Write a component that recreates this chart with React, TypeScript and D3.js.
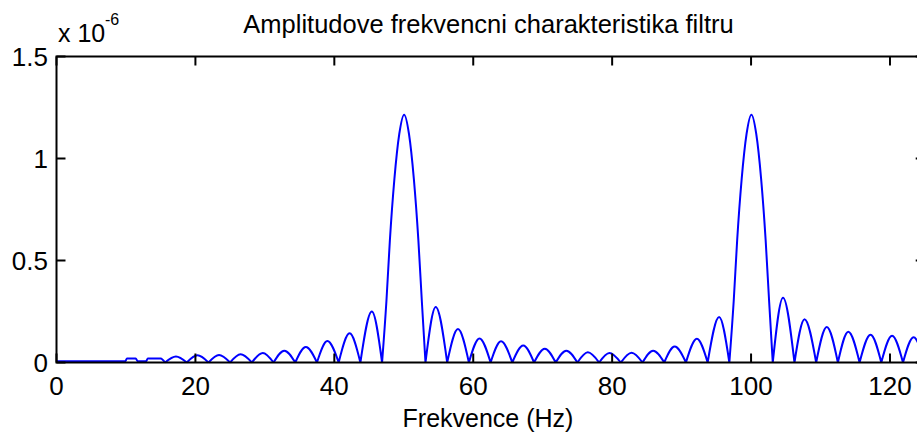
import React from "react";
import * as d3 from "d3";

// ---- data (amplitude in units of 1e-6, frequency in Hz) ----
const xTicks = [0, 20, 40, 60, 80, 100, 120];
const yTicks = [0, 0.5, 1, 1.5];
const yTickLabels = ["0", "0.5", "1", "1.5"];

const floorHz = [0, 9.9, 10.15, 11.4, 11.7, 12.9, 13.15, 15.0];
const floorAmp = [0.006, 0.006, 0.02, 0.02, 0.006, 0.006, 0.02, 0.02];

const nullsHz = [
  15.625, 18.75, 21.875, 25, 28.125, 31.25, 34.375, 37.5, 40.625, 43.75, 46.875,
  53.125, 56.25, 59.375, 62.5, 65.625, 68.75, 71.875, 75, 78.125, 81.25, 84.375,
  87.5, 90.625, 93.75, 96.875, 103.125, 106.25, 109.375, 112.5, 115.625, 118.75,
  121.875, 125,
];

const sideLobeHz = [
  17.2, 20.3, 23.4, 26.5, 29.7, 32.8, 35.9, 39.0, 42.2, 45.4,
  54.6, 57.8, 60.9, 64.0, 67.2, 70.3, 73.4, 76.5, 79.6, 82.8, 85.9, 89.0, 92.2, 95.4,
  104.6, 107.7, 110.9, 114.0, 117.2, 120.3, 123.4,
];
const sideLobeAmp = [
  0.03, 0.035, 0.037, 0.04, 0.047, 0.058, 0.076, 0.105, 0.143, 0.25,
  0.272, 0.164, 0.118, 0.104, 0.083, 0.068, 0.058, 0.05, 0.047, 0.048, 0.057, 0.078, 0.116, 0.223,
  0.318, 0.212, 0.174, 0.151, 0.136, 0.131, 0.124,
];

const mainLobe50Hz = [47.5, 48.0, 48.65, 49.35, 50.05, 50.75, 51.45, 52.1, 52.6];
const mainLobe50Amp = [0.3, 0.6, 0.9, 1.12, 1.215, 1.12, 0.9, 0.6, 0.3];
const mainLobe100Hz = [97.5, 98.0, 98.65, 99.35, 100.05, 100.75, 101.45, 102.1, 102.6];
const mainLobe100Amp = [0.3, 0.6, 0.9, 1.12, 1.215, 1.12, 0.9, 0.6, 0.3];

const title = "Amplitudove frekvencni charakteristika filtru";
const xLabel = "Frekvence (Hz)";

// ---- layout ----
const W = 917;
const H = 433;
const left = 56.5;
const right = 924.7;
const top = 56.5;
const bottom = 362.5;
const FONT = "'Liberation Sans', Arial, Helvetica, sans-serif";

export default function App() {
  const x = d3.scaleLinear().domain([0, 125]).range([left, right]);
  const y = d3.scaleLinear().domain([0, 1.5]).range([bottom, top]);

  type P = [number, number];
  const pts: P[] = [];
  floorHz.forEach((f, i) => pts.push([f, floorAmp[i]]));
  nullsHz.forEach((f) => pts.push([f, 0]));
  sideLobeHz.forEach((f, i) => pts.push([f, sideLobeAmp[i]]));
  mainLobe50Hz.forEach((f, i) => pts.push([f, mainLobe50Amp[i]]));
  mainLobe100Hz.forEach((f, i) => pts.push([f, mainLobe100Amp[i]]));
  pts.sort((a, b) => a[0] - b[0]);

  // split into segments at the nulls so each lobe keeps its V-shaped null
  const segments: P[][] = [];
  let cur: P[] = [];
  pts.forEach((p) => {
    cur.push(p);
    if (p[1] === 0 && cur.length > 1) {
      segments.push(cur);
      cur = [p];
    }
  });
  if (cur.length > 1) segments.push(cur);

  const line = d3
    .line<P>()
    .x((d) => x(d[0]))
    .y((d) => y(d[1]))
    .curve(d3.curveMonotoneX);
  const pathD = segments.map((s) => line(s)).join("");

  const tickLen = 9;

  return (
    <svg
      width={W}
      height={H}
      style={{ position: "absolute", left: 0, top: 0, display: "block", background: "#fff" }}
      fontFamily={FONT}
    >
      <rect x={0} y={0} width={W} height={H} fill="#fff" />
      {/* curve */}
      <path d={pathD} fill="none" stroke="#0000ff" strokeWidth={2} strokeLinejoin="round" />
      {/* box */}
      <rect x={left} y={top} width={right - left} height={bottom - top} fill="none" stroke="#000" strokeWidth={2} />
      {/* x ticks */}
      {xTicks.map((t) => (
        <g key={"xt" + t}>
          <line x1={x(t)} x2={x(t)} y1={bottom} y2={bottom - tickLen} stroke="#000" strokeWidth={2} />
          <line x1={x(t)} x2={x(t)} y1={top} y2={top + tickLen} stroke="#000" strokeWidth={2} />
          <text x={x(t)} y={395} textAnchor="middle" fontSize={26} fill="#000">
            {t}
          </text>
        </g>
      ))}
      {/* y ticks */}
      {yTicks.map((t, i) => (
        <g key={"yt" + t}>
          <line x1={left} x2={left + tickLen} y1={y(t)} y2={y(t)} stroke="#000" strokeWidth={2} />
          <line x1={right} x2={right - tickLen} y1={y(t)} y2={y(t)} stroke="#000" strokeWidth={2} />
          <text x={48} y={y(t) + 9.5} textAnchor="end" fontSize={26} fill="#000">
            {yTickLabels[i]}
          </text>
        </g>
      ))}
      {/* exponent */}
      <text x={58} y={41.5} fontSize={25} fill="#000">
        x 10
      </text>
      <text x={105} y={25} fontSize={16} fill="#000">
        -6
      </text>
      {/* title */}
      <text x={488.5} y={33} textAnchor="middle" fontSize={25.5} fill="#000">
        {title}
      </text>
      {/* x label */}
      <text x={488} y={427} textAnchor="middle" fontSize={25} fill="#000">
        {xLabel}
      </text>
    </svg>
  );
}
